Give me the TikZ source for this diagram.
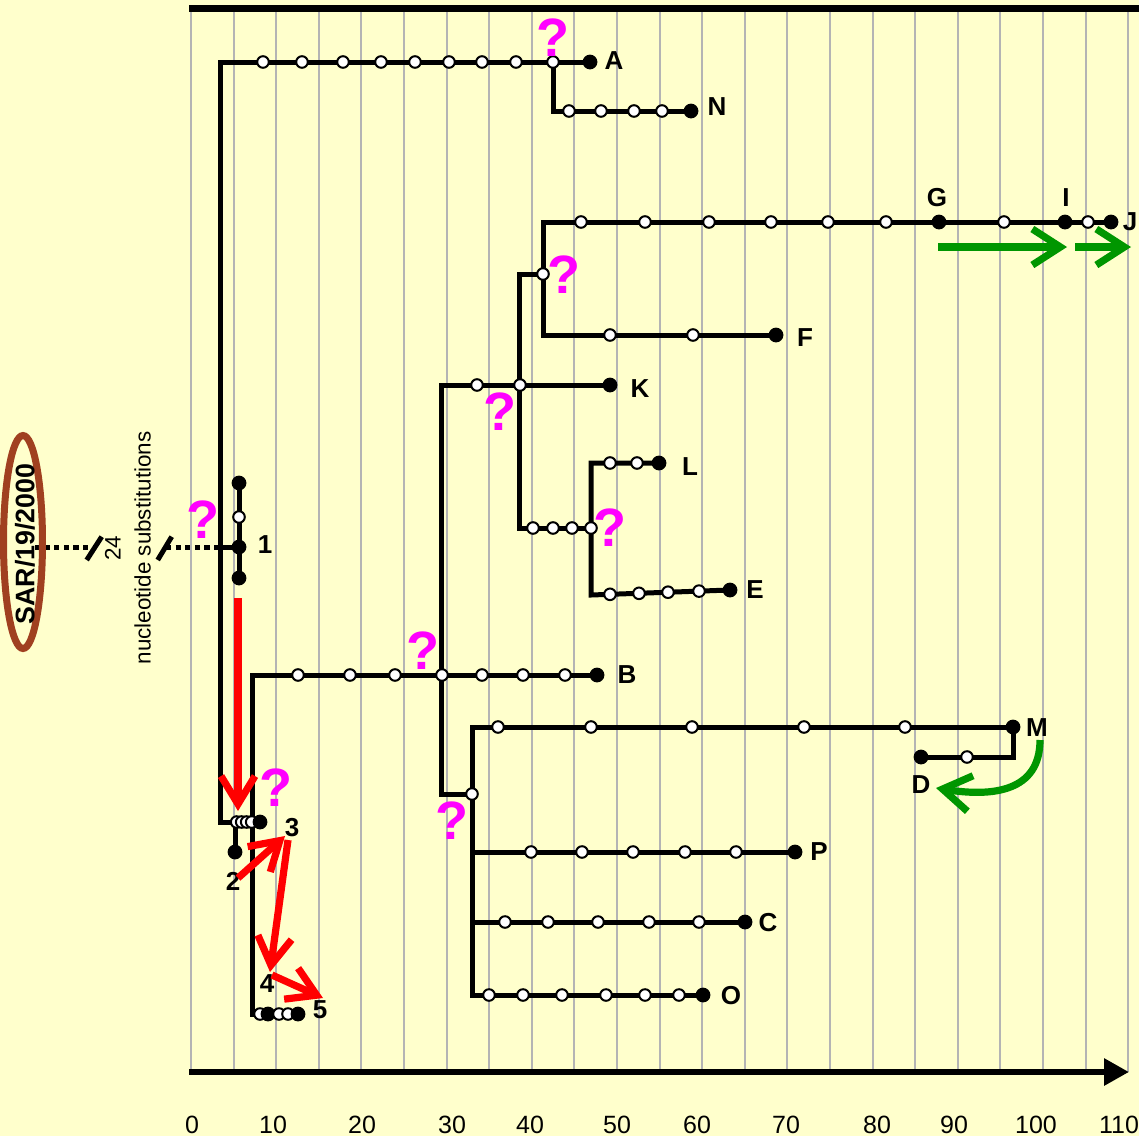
\documentclass[tikz,border=0pt]{standalone}
\usepackage{fontspec}
\setmainfont{Liberation Sans}
\usetikzlibrary{arrows.meta,shapes.geometric}
\definecolor{bgc}{RGB}{255,255,204}
\definecolor{gridc}{RGB}{180,180,180}
\definecolor{qm}{RGB}{255,0,255}
\definecolor{grn}{RGB}{0,150,0}
\definecolor{brn}{RGB}{160,64,32}
\pgfdeclarelayer{bg}
\pgfsetlayers{bg,main}
\begin{document}
\begin{tikzpicture}[x=0.5pt,y=-0.5pt,
  tree/.style={line width=2.5pt,line join=miter},
  op/.style={circle,draw=black,fill=white,line width=1pt,minimum size=5.8pt,inner sep=0pt},
  fp/.style={circle,fill=black,minimum size=7.4pt,inner sep=0pt},
  lab/.style={font=\bfseries\fontsize{13}{14}\selectfont,inner sep=0pt},
  qmark/.style={text=qm,font=\bfseries\fontsize{27}{30}\selectfont,inner sep=0pt},
  axnum/.style={font=\fontsize{12.5}{14}\selectfont,inner sep=0pt},
  redarr/.style={draw=red,line width=3.6pt,-{Straight Barb[length=14pt,width=17pt]}},
  grnarr/.style={draw=grn,line width=3.6pt,-{Straight Barb[length=14pt,width=18pt]}}
]
\useasboundingbox (0,0) rectangle (1139,1136);
\begin{pgfonlayer}{bg}
\fill[bgc] (0,0) rectangle (1139,1136);
\foreach \k in {0,...,22} \draw[gridc,line width=1pt] ({191+42.6*\k},8) -- ({191+42.6*\k},1072);
\end{pgfonlayer}

% frame lines
\coordinate (topL) at (189,8.5);
\coordinate (topR) at (1139,8.5);
\coordinate (axL) at (189,1072);
\coordinate (axR) at (1129,1072);
\draw[line width=3.3pt] (topL) -- (topR);
\draw[line width=3pt,-{Triangle[length=12.5pt,width=13pt]}] (axL) -- (axR);

% axis numbers
\foreach \v/\x in {0/192,10/273,20/362,30/452,40/530,50/617,60/697,70/786,80/877,90/954,100/1036,110/1119}
  \node[axnum] (ax\v) at (\x,1125) {\v};

% circles
\foreach \x [count=\i] in {263,302,343,381,415,449,482,516,553} \node[op] (a\i) at (\x,62) {};
\node[fp] (aE) at (590,62) {};
\foreach \x [count=\i] in {569,601,634,662} \node[op] (n\i) at (\x,111) {};
\node[fp] (nE) at (691,111) {};
\foreach \x [count=\i] in {581,645,709,771,828,886} \node[op] (j\i) at (\x,222) {};
\node[fp] (jG) at (939,222) {};
\node[op] (j7) at (1004,222) {};
\node[fp] (jI) at (1065,222) {};
\node[op] (j8) at (1088,222) {};
\node[fp] (jJ) at (1111,222) {};
\foreach \x [count=\i] in {610,693} \node[op] (f\i) at (\x,335) {};
\node[fp] (fE) at (776,335) {};
\node[op] (jf) at (543,274) {};
\foreach \x [count=\i] in {477,520} \node[op] (k\i) at (\x,385) {};
\node[fp] (kE) at (610,385) {};
\foreach \x [count=\i] in {533,553,572,591} \node[op] (le\i) at (\x,528) {};
\foreach \x [count=\i] in {610,637} \node[op] (l\i) at (\x,463) {};
\node[fp] (lE) at (659,463) {};
\foreach \x/\y [count=\i] in {610/594.3,639/593.3,668/592.2,699/591.1} \node[op] (e\i) at (\x,\y) {};
\node[fp] (eE) at (730,590) {};
\foreach \x [count=\i] in {298,350,395,442,482,523,565} \node[op] (b\i) at (\x,675) {};
\node[fp] (bE) at (597,675) {};
\node[op] (jM) at (472,794) {};
\foreach \x [count=\i] in {498,591,692,804,905} \node[op] (m\i) at (\x,727) {};
\node[fp] (mE) at (1013,727) {};
\node[op] (d1) at (967,757) {};
\node[fp] (dE) at (921,757) {};
\foreach \x [count=\i] in {531,582,633,685,736} \node[op] (p\i) at (\x,852) {};
\node[fp] (pE) at (795,852) {};
\foreach \x [count=\i] in {505,548,598,649,699} \node[op] (c\i) at (\x,922) {};
\node[fp] (cE) at (745,922) {};
\foreach \x [count=\i] in {489,523,562,606,645,679} \node[op] (o\i) at (\x,995) {};
\node[fp] (oE) at (703,995) {};
% cluster 1
\node[fp] (s1) at (239,483) {};
\node[op] (s2) at (239,517) {};
\node[fp] (s3) at (239,547) {};
\node[fp] (s4) at (239,578) {};
% cluster 3
\foreach \x [count=\i] in {236.7,241.7,246.7,251.7} \node[op] (t\i) at (\x,822) {};
\node[fp] (tE) at (260,822) {};
\node[fp] (two) at (235,852) {};
% cluster 4/5
\node[op] (u1) at (260,1014) {};
\node[fp] (four) at (268,1014) {};
\node[op] (u2) at (279,1014) {};
\node[op] (u3) at (288,1014) {};
\node[fp] (five) at (298,1014) {};

% tree lines
\coordinate (trT) at (220,62);
\coordinate (trB) at (220,822);
\coordinate (nC) at (553,111);
\coordinate (jfT) at (543,222);
\coordinate (jfB) at (543,335);
\coordinate (kfT) at (519,274);
\coordinate (kfB) at (519,528);
\coordinate (kC) at (441,385);
\coordinate (kB) at (441,794);
\coordinate (leT) at (591,463);
\coordinate (leB) at (591,595);
\coordinate (bC) at (252,675);
\coordinate (bB) at (252,1014);
\coordinate (mT) at (472,727);
\coordinate (mB) at (472,995);
\coordinate (pC) at (472,852);
\coordinate (cC) at (472,922);
\coordinate (dC) at (1013,757);
\coordinate (s1j) at (220,547);
\coordinate (dotA) at (35,547);
\coordinate (dotB) at (92,547);
\coordinate (dotC) at (166,547);
\coordinate (twoT) at (235,822);
\begin{pgfonlayer}{bg}
\draw[tree] (aE.center) -- (trT) -- (trB) -- (tE.center);
\draw[tree] (a9.center) -- (nC) -- (nE.center);
\draw[tree] (jJ.center) -- (jfT) -- (jfB) -- (fE.center);
\draw[tree] (jf.center) -- (kfT) -- (kfB) -- (le4.center);
\draw[tree] (kE.center) -- (kC) -- (kB) -- (jM.center);
\draw[tree] (lE.center) -- (leT) -- (leB) -- (eE.center);
\draw[tree] (bE.center) -- (bC) -- (bB) -- (five.center);
\draw[tree] (oE.center) -- (mB) -- (mT) -- (mE.center) -- (dC) -- (dE.center);
\draw[tree] (pC) -- (pE.center);
\draw[tree] (cC) -- (cE.center);
\draw[tree] (s1.center) -- (s4.center);
\draw[tree] (s1j) -- (s3.center);
\draw[tree] (twoT) -- (two.center);
\draw[line width=2.5pt,dash pattern=on 2.6pt off 2.2pt] (dotA) -- (dotB);
\draw[line width=2.5pt,dash pattern=on 2.6pt off 2.2pt] (dotC) -- (s1j);
\end{pgfonlayer}
\draw[line width=2.5pt] (86.7,560) -- (101.7,536.7);
\draw[line width=2.5pt] (157.7,560) -- (171.7,536.7);

% left annotation
\node[draw=brn,line width=3.5pt,ellipse,minimum width=19.5pt,minimum height=106.5pt,inner sep=0pt] (sarE) at (23,542) {};
\node[rotate=90,font=\bfseries\fontsize{13.4}{15}\selectfont,inner sep=0pt] (sar) at (25,544) {SAR/19/2000};
\node[rotate=90,align=center,font=\fontsize{11.2}{15}\selectfont,inner sep=0pt] (nsub) at (128,548) {24\\nucleotide substitutions};

% labels
\node[lab] (LA) at (614,61) {A};
\node[lab] (LN) at (717,107) {N};
\node[lab] (LG) at (937,198) {G};
\node[lab] (LI) at (1066,198) {I};
\node[lab] (LJ) at (1130,222) {J};
\node[lab] (LF) at (805,338) {F};
\node[lab] (LK) at (640,389) {K};
\node[lab] (LL) at (690,467) {L};
\node[lab] (LE) at (755,590) {E};
\node[lab] (LB) at (627,675) {B};
\node[lab] (LM) at (1037,728) {M};
\node[lab] (LD) at (921,785) {D};
\node[lab] (LP) at (819,852) {P};
\node[lab] (LC) at (768,923) {C};
\node[lab] (LO) at (731,996) {O};
\node[lab] (L1) at (265,545) {1};
\node[lab] (L2) at (233,881) {2};
\node[lab] (L3) at (292,828) {3};
\node[lab] (L4) at (267,984) {4};
\node[lab] (L5) at (320,1010) {5};

% question marks
\node[qmark] (q1) at (553,38) {?};
\node[qmark] (q2) at (564,275) {?};
\node[qmark] (q3) at (500,412) {?};
\node[qmark] (q4) at (610,528) {?};
\node[qmark] (q5) at (423,651) {?};
\node[qmark] (q6) at (452,821) {?};
\node[qmark] (q7) at (203,520) {?};
\node[qmark] (q8) at (276,788) {?};

% red arrows
\coordinate (r1a) at (238,598);
\coordinate (r1b) at (238,811);
\coordinate (r2a) at (238,878);
\coordinate (r2b) at (285,836);
\coordinate (r3a) at (288,840);
\coordinate (r3b) at (270,972);
\coordinate (r4a) at (272,975);
\coordinate (r4b) at (323,998);
\draw[redarr] (r1a) -- (r1b);
\draw[redarr] (r2a) -- (r2b);
\draw[redarr] (r3a) -- (r3b);
\draw[redarr] (r4a) -- (r4b);

% green arrows
\coordinate (g1a) at (938,247);
\coordinate (g1b) at (1067,247);
\coordinate (g2a) at (1075,247);
\coordinate (g2b) at (1131,247);
\coordinate (g3a) at (1040,740);
\coordinate (g3b) at (936,788);
\draw[grnarr] (g1a) -- (g1b);
\draw[grnarr] (g2a) -- (g2b);
\draw[grnarr] (g3a) .. controls (1040,792) and (992,797) .. (g3b);
\end{tikzpicture}
\end{document}
